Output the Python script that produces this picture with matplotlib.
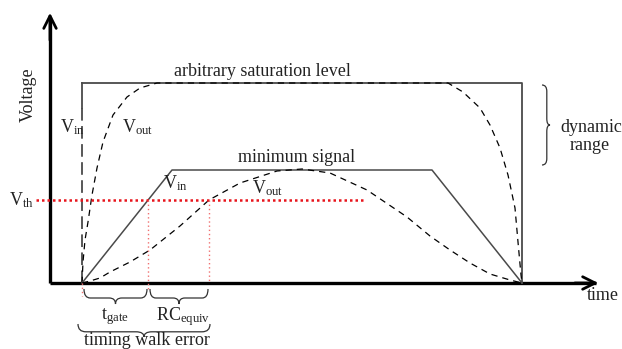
import numpy as np
import matplotlib
matplotlib.use('Agg')
import matplotlib.pyplot as plt
from matplotlib.path import Path
from matplotlib.patches import PathPatch

plt.rcParams['font.family'] = ['Liberation Serif', 'DejaVu Serif']
plt.rcParams['mathtext.fontset'] = 'custom'
plt.rcParams['mathtext.rm'] = 'Liberation Serif'
plt.rcParams['mathtext.it'] = 'Liberation Serif:italic'

# --- schematic values (time in arbitrary units, voltage in arbitrary units) ---
t_origin = -3.2          # where the drawn axes cross
v_sat = 2.0              # arbitrary saturation level
v_min = 1.13             # minimum signal plateau
v_th = 0.83              # threshold
t_end = 44.0             # end of the pulses

# large input pulse (instant rise)
t_big_in = [0, 0, t_end, t_end]
v_big_in = [0, v_sat, v_sat, 0]

# large output (dashed)
t_big_out = [0, 0.1, 0.3, 0.6, 1.0, 1.5, 2.1, 3.1, 4.5, 5.8, 7.5, 36.6,
             38.1, 39.8, 40.8, 41.8, 42.6, 43.3, 43.6, 43.9, 44.0]
v_big_out = [0, 0.21, 0.43, 0.61, 0.88, 1.15, 1.41, 1.68, 1.86, 1.95, 2.0, 2.0,
             1.91, 1.75, 1.58, 1.35, 1.08, 0.75, 0.41, 0.08, 0]

# minimum input pulse (linear ramps)
t_small_in = [0, 9.0, 35.0, t_end]
v_small_in = [0, v_min, v_min, 0]

# minimum output (dashed)
t_small_out = [0, 0.8, 1.8, 2.8, 4.8, 6.8, 9.8, 12.7, 15.8, 19.5, 22.0, 24.8,
               28.5, 32.5, 34.8, 36.8, 38.8, 40.8, 42.8, 44.0]
v_small_out = [0, 0.02, 0.05, 0.11, 0.21, 0.33, 0.57, 0.83, 1.0, 1.12, 1.14, 1.10,
               0.93, 0.66, 0.47, 0.33, 0.20, 0.09, 0.03, 0]

t_gate = 6.6             # input crosses threshold
t_rc = 12.7              # output crosses threshold

fig = plt.figure(figsize=(6.22, 3.49), dpi=100)
ax = fig.add_axes([0, 0, 1, 1])
ax.set_xlim(-8.2, 54.0)
ax.set_ylim(-0.66, 2.83)
ax.axis('off')

txt = '#222222'
grey = '#4a4a4a'


def brace(x0, x1, y0, h, horizontal=True, lw=0.9, rf=0.1):
    # curly brace; ends at y0, tip at y0-h (horizontal) or x at y0+h (vertical)
    m = (x0 + x1) / 2.0
    r = (x1 - x0) * rf
    ym = y0 - h * 0.6
    yt = y0 - h
    pts = [(x0, y0), (x0, ym), (x0 + r, ym), (m - r, ym), (m, ym), (m, yt),
           (m, ym), (m + r, ym), (x1 - r, ym), (x1, ym), (x1, y0)]
    codes = [Path.MOVETO, Path.CURVE3, Path.CURVE3, Path.LINETO, Path.CURVE3,
             Path.CURVE3, Path.CURVE3, Path.CURVE3, Path.LINETO, Path.CURVE3,
             Path.CURVE3]
    if not horizontal:
        pts = [(p[1], p[0]) for p in pts]
    ax.add_patch(PathPatch(Path(pts, codes), fill=False, ec='#333333', lw=lw))


# axes with open arrow heads
ax.plot([t_origin, t_origin], [0, 2.66], color='black', lw=2.4, solid_capstyle='butt')
ax.plot([t_origin, 51.4], [0, 0], color='black', lw=2.4, solid_capstyle='butt')
ax.annotate('', xy=(t_origin, 2.73), xytext=(t_origin, 2.4),
            arrowprops=dict(arrowstyle='->,head_length=0.9,head_width=0.45',
                            lw=2.0, color='black'))
ax.annotate('', xy=(51.9, 0), xytext=(49.0, 0),
            arrowprops=dict(arrowstyle='->,head_length=0.9,head_width=0.45',
                            lw=2.0, color='black'))

# large pulse
ax.plot(t_big_in[1:], v_big_in[1:], color=grey, lw=1.3)
ax.plot([0, 0], [v_sat, 1.75], color=grey, lw=1.3)
ax.plot([0, 0], [1.75, 0], color=grey, lw=1.3, dashes=(7, 3))
ax.plot(t_big_out, v_big_out, color='black', lw=0.9, dashes=(5, 4))

# minimum signal
ax.plot(t_small_in, v_small_in, color=grey, lw=1.1)
ax.plot(t_small_out, v_small_out, color='black', lw=0.9, dashes=(5, 4))

# threshold and timing markers
ax.plot([-4.6, 28.3], [v_th, v_th], color='#e8141c', lw=1.8, dashes=(1, 1.2))
ax.plot([0, 0], [0, -0.13], color='#f07070', lw=1.0, dashes=(1, 2))
ax.plot([t_gate, t_gate], [v_th, -0.08], color='#f07070', lw=1.0, dashes=(1, 2))
ax.plot([t_rc, t_rc], [v_th, 0], color='#f07070', lw=1.0, dashes=(1, 2))

# braces
brace(0.2, t_gate - 0.1, -0.06, 0.15)
brace(t_gate + 0.2, t_rc - 0.1, -0.06, 0.15)
brace(-0.4, t_rc + 0.1, -0.41, 0.13, rf=0.06)
brace(1.18, 1.98, 46.0, -0.8, horizontal=False, rf=0.08)

# labels
fs = 13
ax.text(-5.4, 1.88, 'Voltage', rotation=90, ha='center', va='center', fontsize=fs, color=txt)
ax.text(-7.3, v_th, r'$\mathrm{V}_{\mathrm{th}}$', ha='left', va='center', fontsize=fs, color=txt)
ax.text(-2.2, 1.56, r'$\mathrm{V}_{\mathrm{in}}$', ha='left', va='center', fontsize=fs, color=txt)
ax.text(4.0, 1.56, r'$\mathrm{V}_{\mathrm{out}}$', ha='left', va='center', fontsize=fs, color=txt)
ax.text(18.0, 2.11, 'arbitrary saturation level', ha='center', va='center', fontsize=fs, color=txt)
ax.text(21.5, 1.26, 'minimum signal', ha='center', va='center', fontsize=fs, color=txt)
ax.text(8.1, 1.0, r'$\mathrm{V}_{\mathrm{in}}$', ha='left', va='center', fontsize=fs, color=txt)
ax.text(17.0, 0.95, r'$\mathrm{V}_{\mathrm{out}}$', ha='left', va='center', fontsize=fs, color=txt)
ax.text(3.3, -0.34, r'$\mathrm{t}_{\mathrm{gate}}$', ha='center', va='center', fontsize=fs, color=txt)
ax.text(10.1, -0.34, r'$\mathrm{RC}_{\mathrm{equiv}}$', ha='center', va='center', fontsize=fs, color=txt)
ax.text(6.5, -0.575, 'timing walk error', ha='center', va='center', fontsize=fs, color=txt)
ax.text(50.5, -0.12, 'time', ha='left', va='center', fontsize=fs, color=txt)
ax.text(47.8, 1.56, 'dynamic', ha='left', va='center', fontsize=fs, color=txt)
ax.text(50.8, 1.38, 'range', ha='center', va='center', fontsize=fs, color=txt)

plt.savefig('out.png', dpi=100)
